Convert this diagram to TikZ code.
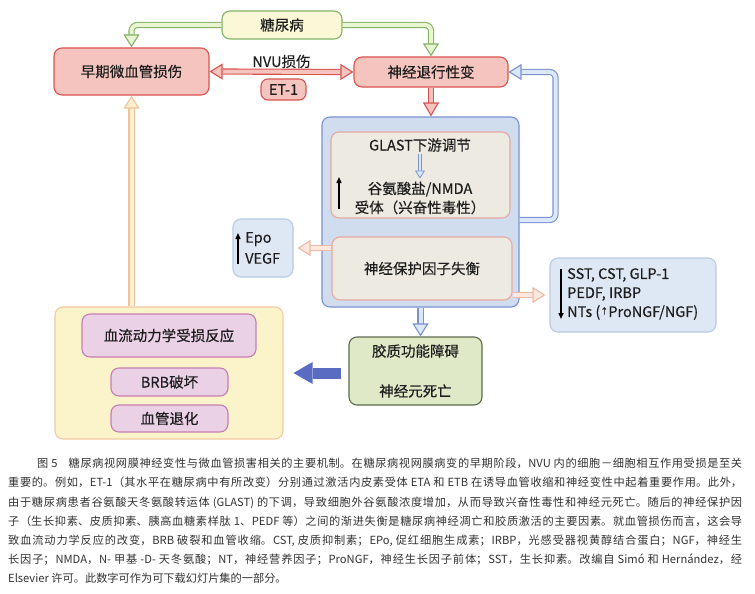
\documentclass[tikz,border=0pt]{standalone}
\usepackage{fontspec}
\setmainfont{Noto Sans CJK SC}
\newfontfamily\boxface[FakeBold=0.3]{Noto Sans CJK SC}
\usepackage{xcolor}
\usetikzlibrary{arrows.meta, calc}
\XeTeXlinebreaklocale "zh"
\XeTeXlinebreakskip=0pt plus 2pt

\definecolor{grnline}{HTML}{82B366}
\definecolor{grnfill}{HTML}{E8F4D2}
\definecolor{dmfill}{HTML}{FAF8D6}
\definecolor{redline}{HTML}{D9534F}
\definecolor{redfill}{HTML}{F6C4BE}
\definecolor{contfill}{HTML}{D0DDEE}
\definecolor{contline}{HTML}{7B92CF}
\definecolor{innerfill}{HTML}{ECEAE1}
\definecolor{innerline}{HTML}{E6A8A2}
\definecolor{bluefill}{HTML}{DCE7F7}
\definecolor{peachline}{HTML}{EDB9A6}
\definecolor{peachfill}{HTML}{FBE8DE}
\definecolor{factfill}{HTML}{DEE7F4}
\definecolor{factline}{HTML}{B9CBE5}
\definecolor{gliafill}{HTML}{DFE8C7}
\definecolor{glialine}{HTML}{5E6B50}
\definecolor{solidblue}{HTML}{5A6CC2}
\definecolor{vascfill}{HTML}{FBF4CA}
\definecolor{vascline}{HTML}{F2C9A2}
\definecolor{pinkfill}{HTML}{EBD1E6}
\definecolor{pinkline}{HTML}{C77DB3}
\definecolor{upfill}{HTML}{FCF1CC}
\definecolor{upline}{HTML}{F0C29E}
\definecolor{ink}{HTML}{1E1E1E}
\definecolor{capink}{HTML}{333333}

\newcommand{\boxfont}{\boxface\fontsize{14.5}{19}\selectfont}
\newcommand{\capfont}{\fontsize{11.2}{19.2}\selectfont}

\tikzset{
  base/.style={rectangle, line width=1.1pt, inner sep=0pt, text=ink,
               font=\boxfont, align=center},
  dmbox/.style={base, rounded corners=8pt, draw=grnline, fill=dmfill},
  rbox/.style={base, rounded corners=8pt, draw=redline, fill=redfill},
  contbox/.style={base, rounded corners=8pt, draw=contline, fill=contfill},
  inbox/.style={base, rounded corners=8pt, draw=innerline, fill=innerfill},
  fbox/.style={base, rounded corners=8pt, draw=factline, fill=factfill},
  gbox/.style={base, rounded corners=8pt, draw=glialine, fill=gliafill},
  ybox/.style={base, rounded corners=8pt, draw=vascline, fill=vascfill},
  pbox/.style={base, rounded corners=8pt, draw=pinkline, fill=pinkfill},
  txt/.style={inner sep=0pt, text=ink, font=\boxfont},
  capt/.style={inner sep=0pt, text=capink, text width=734pt, align=justify,
               font=\capfont, execute at begin node={\setlength{\parindent}{0pt}}},
  garr/.style={draw=grnline, double=grnfill, double distance=4pt,
               line width=1.1pt, rounded corners=6pt,
               -{Triangle[length=13pt,width=16pt,fill=grnfill,line width=1.1pt]}},
  rarr/.style={draw=redline, double=redfill, double distance=4pt,
               line width=1.1pt,
               -{Triangle[length=14pt,width=16pt,fill=redfill,line width=1.1pt]}},
  rrarr/.style={rarr,
               {Triangle[length=13pt,width=16pt,fill=redfill,line width=1.1pt]}-{Triangle[length=13pt,width=16pt,fill=redfill,line width=1.1pt]}},
  barr/.style={draw=contline, double=bluefill, double distance=4pt,
               line width=1.1pt, rounded corners=6pt,
               -{Triangle[length=13pt,width=16pt,fill=bluefill,line width=1.1pt]}},
  sbarr/.style={draw=contline, double=bluefill, double distance=2.5pt,
               line width=0.8pt,
               -{Triangle[length=8pt,width=10pt,fill=bluefill,line width=0.8pt]}},
  parr/.style={draw=peachline, double=peachfill, double distance=4pt,
               line width=1.1pt,
               -{Triangle[length=13pt,width=16pt,fill=peachfill,line width=1.1pt]}},
  uarr/.style={draw=upline, double=upfill, double distance=4pt,
               line width=1.1pt,
               -{Triangle[length=13pt,width=16pt,fill=upfill,line width=1.1pt]}},
  sarr/.style={draw=solidblue, line width=11pt,
               -{Triangle[length=19pt,width=22pt,line width=0pt]}},
  blk/.style={draw=black, line width=1.4pt, -{Triangle[length=6pt,width=5pt]}},
}

\begin{document}
\begin{tikzpicture}[x=1pt,y=-1pt]
  \useasboundingbox[fill=white] (0,0) rectangle (755,594);

  % top row
  \node[dmbox, minimum width=120pt, minimum height=28pt] (dm) at (282,25) {糖尿病};
  \node[rbox, minimum width=155pt, minimum height=47pt] (early) at (131.5,71.5) {早期微血管损伤};
  \node[rbox, minimum width=154pt, minimum height=30pt] (neuro) at (431,72) {神经退行性变};
  \node[rbox, rounded corners=7pt, minimum width=45pt, minimum height=21pt] (et) at (283.5,89.5) {ET-1};

  % glial cell block
  \node[contbox, minimum width=197pt, minimum height=190pt] (cont) at (420.5,212) {};
  \node[inbox, minimum width=179pt, minimum height=86pt] (glast) at (420.5,175) {};
  \node[txt] (glastxt) at (420,145) {GLAST下游调节};
  \node[txt, align=center] (glu) at (420,198) {谷氨酸盐/NMDA\\受体（兴奋性毒性）};
  \node[inbox, minimum width=180pt, minimum height=63pt] (prot) at (422,268.5) {神经保护因子失衡};

  % factor boxes
  \node[fbox, minimum width=60pt, minimum height=58pt] (epo) at (263,248) {};
  \node[txt, align=left, anchor=west] (epotxt) at (245,248) {Epo\\[2pt]VEGF};
  \node[fbox, minimum width=166pt, minimum height=74pt] (sst) at (633,295) {};
  \node[txt, align=left, anchor=west] (ssttxt) at (567,294)
        {SST, CST, GLP-1\\PEDF, IRBP\\NTs ({\fontsize{8}{8}\selectfont\raisebox{3pt}{↑}}ProNGF/NGF)};

  % outcome
  \node[gbox, minimum width=133pt, minimum height=68pt] (glia) at (415.5,371)
        {胶质功能障碍\\[21pt]神经元死亡};

  % vascular block
  \node[ybox, minimum width=228pt, minimum height=132pt] (vasc) at (169,373) {};
  \node[pbox, minimum width=174pt, minimum height=43pt] (hemo) at (169,335.5) {血流动力学受损反应};
  \node[pbox, minimum width=117pt, minimum height=28pt] (brb) at (169.5,382) {BRB破坏};
  \node[pbox, minimum width=117pt, minimum height=27pt] (regr) at (169.5,418.5) {血管退化};

  % connectors
  \draw[garr] (dm.west) -| (early.north);
  \draw[garr] (dm.east) -| (neuro.north);
  \draw[rrarr] (early.east) -- (neuro.west)
        node[midway, above=3pt, txt] (nvu) {NVU损伤};
  \draw[rarr] (neuro.south) -- (neuro.south |- cont.north);
  \draw[sbarr] (glastxt.south) ++(0,2) -- ($(glu.north)+(0,-3)$);
  \draw[barr] ($(cont.east)+(0,8)$) -- ++(36,0) |- (neuro.east);
  \draw[parr, shorten >=4pt] (prot.west |- epo.east) -- (epo.east);
  \draw[parr, shorten >=4pt] (prot.east |- sst.west) -- (sst.west);
  \draw[barr] (cont.south) -- (cont.south |- glia.north);
  \draw[sarr, shorten <=7pt, shorten >=10pt] (glia.west |- vasc.east) -- (vasc.east);
  \draw[uarr] (early.south |- vasc.north) -- (early.south);

  % up / down markers
  \draw[blk] (339,209) -- (339,177);
  \draw[blk] (238,264) -- (238,233);
  \draw[blk] (561,269) -- (561,319);

  % caption
  \node[capt, anchor=north west] (cap) at (8,458)
    {\hspace*{29pt}图 5\hspace{1em}糖尿病视网膜神经变性与微血管损害相关的主要机制。在糖尿病视网膜病变的早期阶段，NVU 内的细胞－细胞相互作用受损是至关\linebreak
     重要的。例如，ET-1（其水平在糖尿病中有所改变）分别通过激活内皮素受体 ETA 和 ETB 在诱导血管收缩和神经变性中起着重要作用。此外，\linebreak
     由于糖尿病患者谷氨酸天冬氨酸转运体 (GLAST) 的下调，导致细胞外谷氨酸浓度增加，从而导致兴奋性毒性和神经元死亡。随后的神经保护因\linebreak
     子（生长抑素、皮质抑素、胰高血糖素样肽 1、PEDF 等）之间的渐进失衡是糖尿病神经凋亡和胶质激活的主要因素。就血管损伤而言，这会导\linebreak
     致血流动力学反应的改变，BRB 破裂和血管收缩。CST, 皮质抑制素；EPo, 促红细胞生成素；IRBP，光感受器视黄醇结合蛋白；NGF，神经生\linebreak
     长因子；NMDA，N- 甲基 -D- 天冬氨酸；NT，神经营养因子；ProNGF，神经生长因子前体；SST，生长抑素。改编自 Simó 和 Hernández，经\linebreak
     Elsevier 许可。此数字可作为可下载幻灯片集的一部分。};
\end{tikzpicture}
\end{document}
